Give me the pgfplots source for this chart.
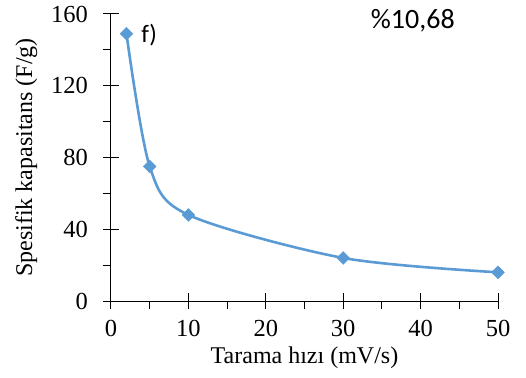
\documentclass[border=0pt]{standalone}
\usepackage{fontspec}
\setmainfont{Liberation Serif}
\newfontfamily\calibri{Carlito}
\usepackage{pgfplots}
\pgfplotsset{compat=1.18}
\definecolor{lineblue}{HTML}{5B9BD5}

\begin{document}
\begin{tikzpicture}
\useasboundingbox (-111bp,-77bp) rectangle (415bp,301bp);
\begin{axis}[
  at={(0,0)}, anchor=south west,
  scale only axis,
  width=387bp, height=287bp,
  xmin=0, xmax=50, ymin=0, ymax=160,
  xtick={0,10,...,50}, ytick={0,40,...,160},
  minor xtick={5,15,...,45}, minor ytick={20,60,...,140},
  axis x line*=bottom, axis y line*=left,
  axis line style={line width=1bp, black, -},
  major tick style={line width=1bp, black},
  minor tick style={line width=1bp, black},
  major tick length=16bp, minor tick length=8bp,
  xtick align=center, ytick align=center,
  minor x tick style={yshift=-4bp},
  minor y tick style={xshift=-4bp},
  /pgf/number format/assume math mode=true,
  tick label style={font=\fontsize{24.5bp}{27bp}\selectfont, inner sep=0pt},
  xticklabel style={anchor=north, yshift=-11bp},
  yticklabel style={anchor=east, xshift=-15bp},
  xlabel={Tarama hızı (mV/s)},
  ylabel={Spesifik kapasitans (F/g)},
  every axis x label/.style={at={(rel axis cs:0.5,0)}, anchor=north,
    yshift=-46bp, inner sep=0pt, font=\fontsize{24bp}{28bp}\selectfont},
  every axis y label/.style={at={(rel axis cs:0,0.5)}, xshift=-96bp,
    rotate=90, anchor=north, inner sep=0pt,
    font=\fontsize{24bp}{28bp}\selectfont},
  clip=false,
]
\addplot[color=lineblue, line width=2.6bp, smooth, tension=0.5,
  mark=square*, mark size=4.5bp,
  mark options={rotate=45, fill=lineblue, draw=lineblue, line width=0.5bp}]
  coordinates {(2,149) (5,75) (10,48) (30,24) (50,16)};
\node[font=\calibri\fontsize{25bp}{28bp}\selectfont, anchor=base west, inner sep=0pt]
  at (axis cs:3.9,144) {f)};
\node[font=\calibri\fontsize{28bp}{32bp}\selectfont, anchor=base, inner sep=0pt]
  at (axis cs:39,152) {\%10,68};
\end{axis}
\end{tikzpicture}
\end{document}
